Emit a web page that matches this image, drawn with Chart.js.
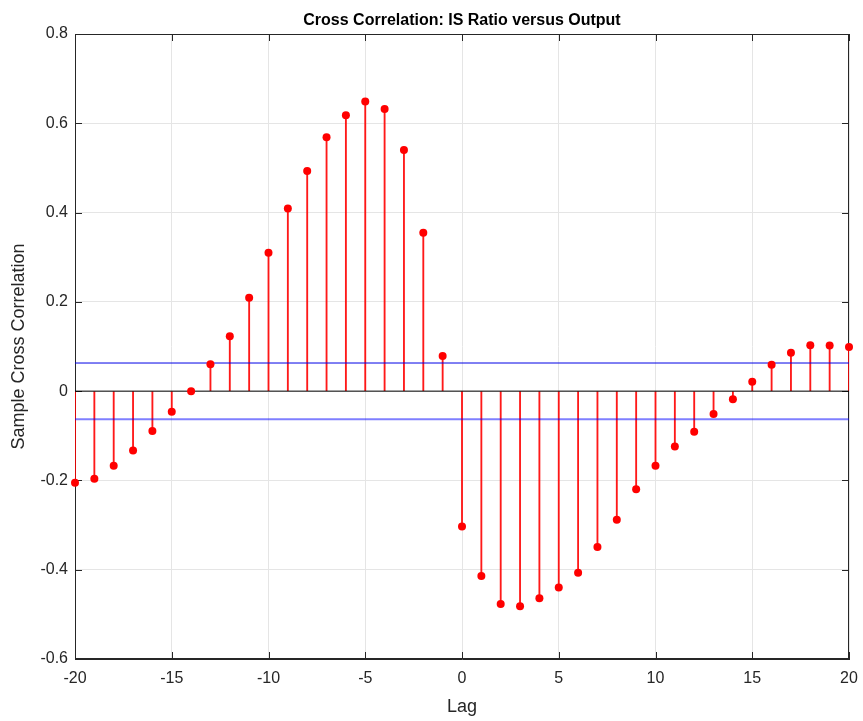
<!DOCTYPE html>
<html>
<head>
<meta charset="utf-8">
<script src="https://cdn.jsdelivr.net/npm/chart.js@4"></script>
<style>
  html, body { margin: 0; padding: 0; background: #ffffff; }
  #wrap { width: 863px; height: 721px; }
</style>
</head>
<body>
<div id="wrap"><canvas id="c" width="863" height="721"></canvas></div>
<script>
// ---- data ----
const lags = [-20,-19,-18,-17,-16,-15,-14,-13,-12,-11,-10,-9,-8,-7,-6,-5,-4,-3,-2,-1,0,1,2,3,4,5,6,7,8,9,10,11,12,13,14,15,16,17,18,19,20];
const xcf = [-0.205,-0.196,-0.167,-0.133,-0.089,-0.046,0.000,0.060,0.123,0.209,0.310,0.409,0.493,0.569,0.618,0.649,0.632,0.540,0.355,0.079,
             -0.303,-0.414,-0.477,-0.482,-0.464,-0.440,-0.407,-0.349,-0.288,-0.220,-0.167,-0.124,-0.091,-0.051,-0.018,0.021,0.059,0.086,0.103,0.102,0.099];
const upperBound = 0.063;
const lowerBound = -0.063;
const xRange = [-20, 20];
const yRange = [-0.6, 0.8];
const xTickStep = 5;
const yTickStep = 0.2;
const titleText = 'Cross Correlation: IS Ratio versus Output';
const xLabel = 'Lag';
const yLabel = 'Sample Cross Correlation';

const FONT = '"Liberation Sans", Arial, Helvetica, sans-serif';
const AXIS_COLOR = '#262626';

const stemData = lags.map((l, i) => ({ x: l, y: [0, xcf[i]] }));
const pointData = lags.map((l, i) => ({ x: l, y: xcf[i] }));
const hLine = v => [{ x: xRange[0], y: v }, { x: xRange[1], y: v }];

const framePlugin = {
  id: 'frame',
  beforeDatasetsDraw(chart) {
    const { ctx, chartArea: a, scales: { x, y } } = chart;
    ctx.save();
    ctx.strokeStyle = AXIS_COLOR;
    ctx.lineWidth = 1;
    ctx.strokeRect(Math.round(a.left) + 0.5, Math.round(a.top) + 0.5,
                   Math.round(a.right - a.left) - 1, Math.round(a.bottom - a.top) - 1);
    const tl = 7;
    ctx.beginPath();
    x.ticks.forEach(t => {
      const px = Math.round(x.getPixelForValue(t.value)) + 0.5;
      ctx.moveTo(px, a.bottom); ctx.lineTo(px, a.bottom - tl);
      ctx.moveTo(px, a.top); ctx.lineTo(px, a.top + tl);
    });
    y.ticks.forEach(t => {
      const py = Math.round(y.getPixelForValue(t.value)) + 0.5;
      ctx.moveTo(a.left, py); ctx.lineTo(a.left + tl, py);
      ctx.moveTo(a.right, py); ctx.lineTo(a.right - tl, py);
    });
    ctx.stroke();
    ctx.restore();
  },
  afterDraw(chart) {
    const { ctx, chartArea: a } = chart;
    ctx.save();
    ctx.font = 'bold 16px ' + FONT;
    ctx.fillStyle = '#000000';
    ctx.textAlign = 'center';
    ctx.textBaseline = 'alphabetic';
    ctx.fillText(titleText, (a.left + a.right) / 2, 25);
    ctx.restore();
  }
};

new Chart(document.getElementById('c'), {
  type: 'scatter',
  data: {
    datasets: [
      {
        type: 'bar',
        label: 'stems',
        data: stemData,
        backgroundColor: 'rgba(255,0,0,0.9)',
        borderWidth: 0,
        barThickness: 1.2,
        grouped: false,
        order: 3
      },
      {
        type: 'line',
        label: 'zero',
        data: hLine(0),
        borderColor: '#000000',
        borderWidth: 1,
        pointRadius: 0,
        order: 2
      },
      {
        type: 'line',
        label: 'upper',
        data: hLine(upperBound),
        borderColor: '#0000e6',
        borderWidth: 1,
        pointRadius: 0,
        order: 2
      },
      {
        type: 'line',
        label: 'lower',
        data: hLine(lowerBound),
        borderColor: 'rgba(0,0,255,0.5)',
        borderWidth: 2,
        pointRadius: 0,
        order: 2
      },
      {
        type: 'scatter',
        label: 'xcf',
        data: pointData,
        backgroundColor: '#ff0000',
        borderColor: '#ff0000',
        borderWidth: 0,
        pointRadius: 4,
        clip: false,
        order: 1
      }
    ]
  },
  options: {
    responsive: false,
    animation: false,
    devicePixelRatio: 1,
    layout: { padding: { top: 34, right: 14, left: 0, bottom: 0 } },
    plugins: {
      legend: { display: false },
      tooltip: { enabled: false },
      title: { display: false }
    },
    scales: {
      x: {
        type: 'linear',
        min: xRange[0], max: xRange[1],
        offset: false,
        afterFit: s => { s.height = 62; s.paddingLeft = 0; s.paddingRight = 0; },
        grid: { color: '#e5e5e5', lineWidth: 1, drawTicks: false, offset: false },
        border: { display: true, color: AXIS_COLOR, width: 1 },
        ticks: {
          stepSize: xTickStep,
          padding: 10,
          color: AXIS_COLOR,
          font: { family: FONT, size: 16 },
          maxRotation: 0,
          callback: v => String(v)
        },
        title: {
          display: true, text: xLabel, color: AXIS_COLOR,
          font: { family: FONT, size: 18 },
          padding: { top: 0, bottom: 3 }
        }
      },
      y: {
        type: 'linear',
        min: yRange[0], max: yRange[1],
        afterFit: s => { s.width = 75; s.paddingTop = 0; s.paddingBottom = 0; },
        grid: { color: '#e5e5e5', lineWidth: 1, drawTicks: false },
        border: { display: true, color: AXIS_COLOR, width: 1 },
        ticks: {
          stepSize: yTickStep,
          padding: 7,
          color: AXIS_COLOR,
          font: { family: FONT, size: 16 },
          callback: v => String(Math.round(v * 10) / 10)
        },
        title: {
          display: true, text: yLabel, color: AXIS_COLOR,
          font: { family: FONT, size: 18 },
          padding: { top: 8, bottom: 0 }
        }
      }
    }
  },
  plugins: [framePlugin]
});
</script>
</body>
</html>
